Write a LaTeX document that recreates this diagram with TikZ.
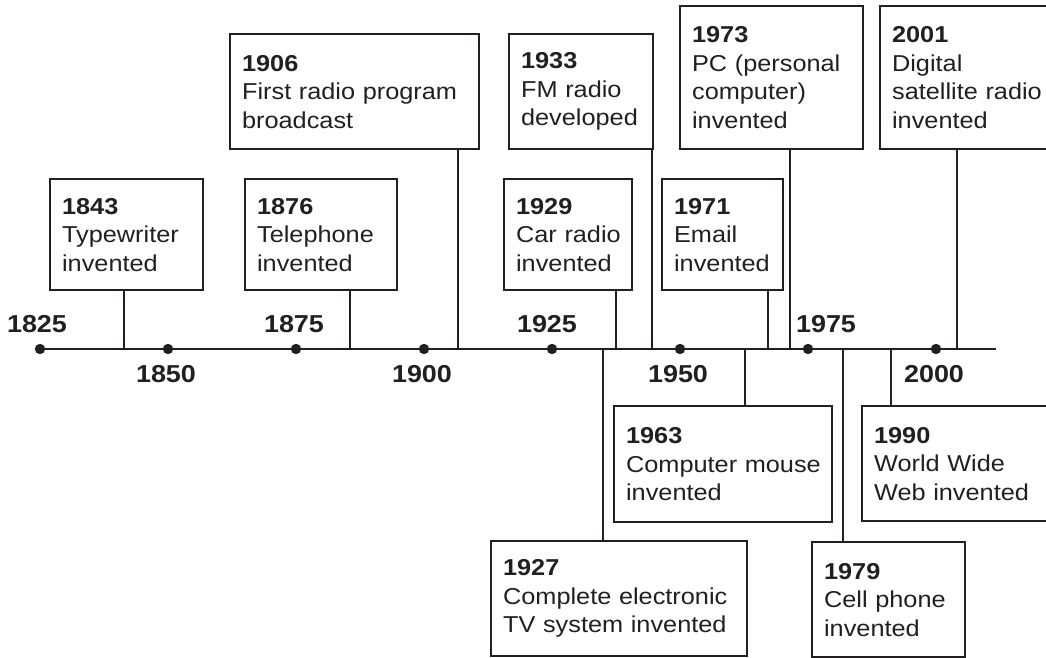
\documentclass[tikz,border=0pt]{standalone}
\usepackage{fontspec}
\setmainfont[FakeStretch=1.1]{Liberation Sans}
\usepackage{xcolor}
\usetikzlibrary{positioning}
\definecolor{inkgray}{RGB}{35,31,32}
\hyphenpenalty=10000

\tikzset{
  evbox/.style={draw=inkgray, line width=2.2pt, anchor=north west, align=left,
    inner xsep=12pt, inner ysep=0pt, text=inkgray,
    font=\fontsize{23}{28.5}\selectfont},
  stem/.style={draw=inkgray, line width=2.2pt},
  yearlbl/.style={text=inkgray, anchor=base, inner sep=0pt,
    font=\fontsize{24.5}{24}\selectfont\bfseries},
}

\begin{document}
\begin{tikzpicture}[x=1pt, y=-1pt]
        \useasboundingbox (0,0) rectangle (1046,657);

        % Main axis
        \coordinate (axL) at (40,349);
        \coordinate (axR) at (996,349);
        \draw[stem] (axL) -- (axR);
        \foreach \i in {0,...,7}
            \fill[inkgray] (40+128*\i,349) circle (5.2pt);
        \foreach \yr/\lx/\ly in {1825/37/332, 1850/166/382, 1875/294/332, 1900/422/382,
                                 1925/547/332, 1950/678/382, 1975/826/332, 2000/934/382}
            \node[yearlbl] (lbl\yr) at (\lx,\ly) {\yr};

        % Where each event meets the axis
        \coordinate (tk1843) at (124,349);
        \coordinate (tk1876) at (350,349);
        \coordinate (tk1906) at (458,349);
        \coordinate (tk1927) at (603,349);
        \coordinate (tk1929) at (616,349);
        \coordinate (tk1933) at (652,349);
        \coordinate (tk1963) at (745,349);
        \coordinate (tk1971) at (768,349);
        \coordinate (tk1973) at (790,349);
        \coordinate (tk1979) at (843,349);
        \coordinate (tk1990) at (891,349);
        \coordinate (tk2001) at (957,349);

        % Events above the axis
        \node[evbox, minimum width=153pt, minimum height=111pt, text width=129pt] (ev1843) at (49,178)
            {\textbf{1843}\\Typewriter\\invented};
        \node[evbox, minimum width=152pt, minimum height=111pt, text width=128pt] (ev1876) at (244,178)
            {\textbf{1876}\\Telephone\\invented};
        \node[evbox, minimum width=249pt, minimum height=115pt, text width=225pt] (ev1906) at (229,33)
            {\textbf{1906}\\First~radio~program\\broadcast};
        \node[evbox, minimum width=128pt, minimum height=111pt, text width=104pt] (ev1929) at (503,178)
            {\textbf{1929}\\Car~radio\\invented};
        \node[evbox, minimum width=144pt, minimum height=115pt, text width=120pt] (ev1933) at (508,33)
            {\textbf{1933}\\FM~radio\\developed};
        \node[evbox, minimum width=121pt, minimum height=111pt, text width=97pt] (ev1971) at (661,178)
            {\textbf{1971}\\Email\\invented};
        \node[evbox, minimum width=183pt, minimum height=143pt, text width=159pt] (ev1973) at (679,5)
            {\textbf{1973}\\PC~(personal\\computer)\\invented};
        \node[evbox, minimum width=185pt, minimum height=143pt, text width=161pt] (ev2001) at (879,5)
            {\textbf{2001}\\Digital\\satellite~radio\\invented};

        % Events below the axis
        \node[evbox, minimum width=256pt, minimum height=115pt, text width=232pt] (ev1927) at (490,540)
            {\textbf{1927}\\Complete~electronic\\TV~system~invented};
        \node[evbox, minimum width=218pt, minimum height=116pt, text width=194pt] (ev1963) at (613,405)
            {\textbf{1963}\\Computer~mouse\\invented};
        \node[evbox, minimum width=153pt, minimum height=115pt, text width=129pt] (ev1979) at (811,541)
            {\textbf{1979}\\Cell~phone\\invented};
        \node[evbox, minimum width=199pt, minimum height=115pt, text width=175pt] (ev1990) at (861,405)
            {\textbf{1990}\\World~Wide\\Web~invented};

        % Stems
        \foreach \ev in {1843,1876,1906,1929,1933,1971,1973,2001}
            \draw[stem] (tk\ev) -- (ev\ev.south -| tk\ev);
        \foreach \ev in {1927,1963,1979,1990}
            \draw[stem] (tk\ev) -- (ev\ev.north -| tk\ev);
    \end{tikzpicture}
\end{document}
